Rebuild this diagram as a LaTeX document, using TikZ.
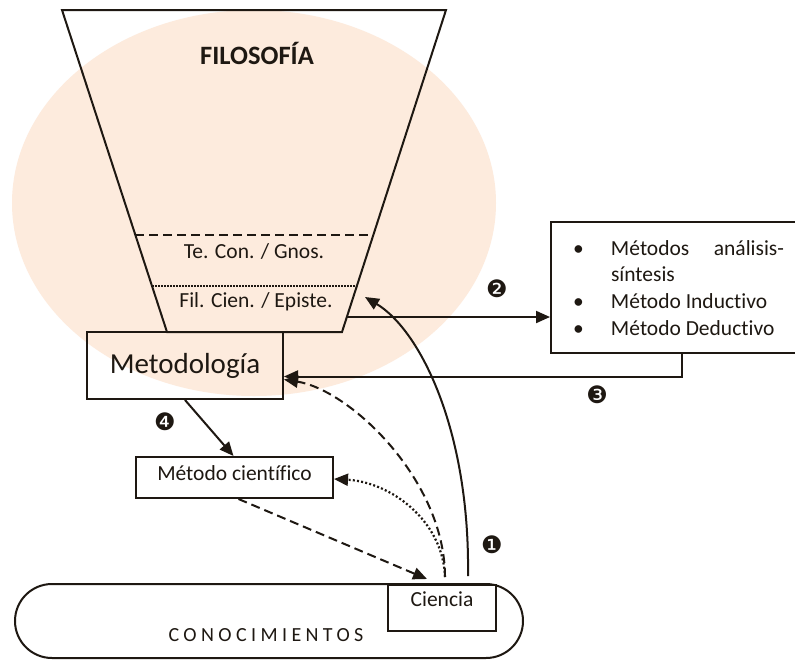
\documentclass[tikz,border=0pt]{standalone}
\usepackage{fontspec}
\setmainfont{Carlito}[Ligatures=NoCommon]
\newfontfamily\djv{DejaVu Sans}
\usetikzlibrary{arrows.meta,calc}
\definecolor{ink}{RGB}{30,24,18}
\definecolor{peach}{RGB}{253,235,221}
\begin{document}
\begin{tikzpicture}[x=1pt,y=-1pt,
  color=ink, line width=2pt,
  >={Triangle[length=14pt,width=12pt]},
  box/.style={draw, line width=2pt, inner sep=0pt},
  txt/.style={font=\fontsize{21.5}{26}\selectfont},
  num/.style={font=\djv\fontsize{24}{24}\selectfont, inner sep=0pt},
  dsh/.style={dash pattern=on 9pt off 5pt},
  dtt/.style={line width=2.2pt, dash pattern=on 2pt off 2.2pt},
]
\fill[white] (0,0) rectangle (795,659);
\useasboundingbox (0,0) rectangle (795,659);
% background ellipse
\fill[peach] (254,203) ellipse [x radius=242, y radius=193];
% funnel
\draw (62,10) -- (446,10) -- (342,332) -- (167,332) -- cycle;
\draw[dsh] (135.4,235) -- (373.3,235);
\draw[line width=1.2pt, dash pattern=on 1.5pt off 1.5pt] (152,286) -- (356.9,286);
\node[font=\bfseries\fontsize{26.5}{30}\selectfont] (filo) at (257,53) {FILOSOFÍA};
\node[txt] (teo) at (254,251) {Te. Con. / Gnos.};
\node[txt] (fil) at (256,302) {Fil. Cien. / Episte.};
\coordinate (t2) at (347,317);
\coordinate (a1) at (365,297);
% boxes
\node[box, minimum width=196pt, minimum height=67pt, font=\fontsize{29}{34}\selectfont] (met) at (185,365.5) {Metodología};
\node[box, minimum width=245pt, minimum height=131pt] (rb) at (673.5,287.5) {};
\node[anchor=base west, inner sep=0pt, txt] (lst) at (572,255) {\parbox[t]{211pt}{\fontsize{21.5}{26.7}\selectfont\setlength\parindent{0pt}%
\makebox[38pt][l]{\textbullet}Métodos\hfill análisis-\par
\hspace*{38pt}síntesis\par
\makebox[38pt][l]{\textbullet}Método Inductivo\par
\makebox[38pt][l]{\textbullet}Método Deductivo}};
\node[box, minimum width=197pt, minimum height=41pt, txt, text height=15.7pt, text depth=10pt] (mc) at (234.5,477.5) {Método científico};
\node[draw, line width=2pt, rounded corners=37pt, minimum width=508pt, minimum height=74pt, inner sep=0pt] (con) at (269,621) {};
\node[font=\fontsize{20}{22}\selectfont\addfontfeatures{LetterSpace=22}] (contxt) at (266,635) {CONOCIMIENTOS};
\node[box, fill=white, minimum width=108pt, minimum height=46pt, inner ysep=3pt, text height=18pt, text depth=22pt, txt] (cie) at (442,608) {Ciencia};
% numbers
\node[num] (n1) at (492,545) {❶};
\node[num] (n2) at (497,289) {❷};
\node[num] (n3) at (597,395) {❸};
\node[num] (n4) at (165,422) {❹};
% connectors
\coordinate (s1) at ($(cie.north)+(26,-8)$);
\coordinate (s2) at ($(cie.north)+(3,-7)$);
\draw[->] (t2) -- (t2 -| rb.west);
\draw[->] ($(rb.south west)+(132,0)$) |- ($(met.east)+(0,11)$);
\draw[->] (s1) .. controls (470,430) and (420,330) .. (a1);
\draw[->, dsh] (s2) .. controls (445,480) and (350,390) .. ($(met.east)+(0,14)$);
\draw[->, dtt] (s2) .. controls (443,520) and (390,482) .. ($(mc.east)+(0,1.5)$);
\draw[->, dsh] ($(mc.south)+(4,0)$) -- ($(cie.north)+(-15,-5)$);
\draw[->] (met.south) -- ($(mc.north)+(-1,0)$);
\end{tikzpicture}
\end{document}
